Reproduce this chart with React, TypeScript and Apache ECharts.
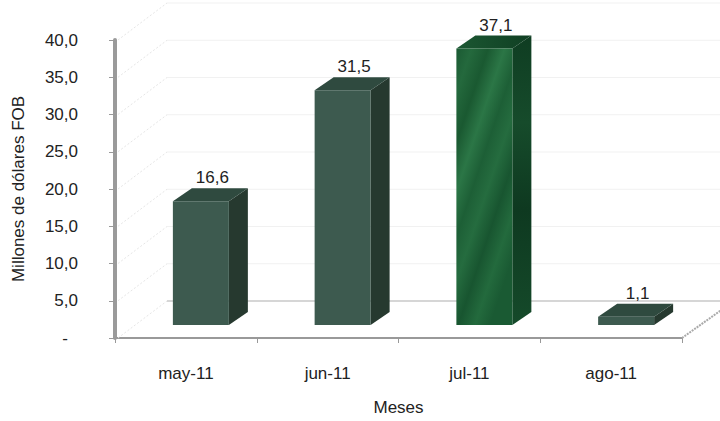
import React, { useEffect, useRef } from "react";
import * as echarts from "echarts";

const months = ["may-11", "jun-11", "jul-11", "ago-11"];
const values = [16.6, 31.5, 37.1, 1.1];
const yTicks = [0, 5, 10, 15, 20, 25, 30, 35, 40];
const highlightMonth = "jul-11";

const fmt = (v: number) => (v === 0 ? "-" : v.toFixed(1).replace(".", ","));

// 3D styling constants (pixels)
const FLOOR_DX = 52;
const FLOOR_DY = 37;
const BAR_OFF_DY = 13;
const BAR_DEPTH_DX = 19;
const BAR_DEPTH_DY = 13;
const FONT = "Liberation Sans";
const FS = 17;

export default function App() {
  const ref = useRef<HTMLDivElement>(null);
  useEffect(() => {
    if (!ref.current) return;
    const chart = echarts.init(ref.current, undefined, { renderer: "svg" });

    const marbleFront = new echarts.graphic.LinearGradient(0, 0, 0.6, 1, [
      { offset: 0, color: "#1b5a33" },
      { offset: 0.12, color: "#24693d" },
      { offset: 0.25, color: "#1a5931" },
      { offset: 0.38, color: "#2b7646" },
      { offset: 0.5, color: "#1d5f36" },
      { offset: 0.62, color: "#256c3f" },
      { offset: 0.75, color: "#185530" },
      { offset: 0.88, color: "#236a3d" },
      { offset: 1, color: "#1a5a33" },
    ]);
    const marbleSide = new echarts.graphic.LinearGradient(0, 0, 0, 1, [
      { offset: 0, color: "#0f3d22" },
      { offset: 0.3, color: "#164b2b" },
      { offset: 0.6, color: "#0e3920" },
      { offset: 1, color: "#154a2a" },
    ]);
    const marbleTop = new echarts.graphic.LinearGradient(0, 0, 1, 0, [
      { offset: 0, color: "#1b5732" },
      { offset: 1, color: "#103f23" },
    ]);

    const option: any = {
      animation: false,
      grid: { left: 115, right: 38, top: 40, bottom: 76 },
      xAxis: {
        type: "category",
        data: months,
        name: "Meses",
        nameLocation: "middle",
        nameGap: 61,
        nameTextStyle: { fontFamily: FONT, fontSize: FS, color: "#222" },
        axisLine: { show: true, lineStyle: { color: "#999", width: 2 } },
        axisTick: { show: true, alignWithLabel: false, length: 5, lineStyle: { color: "#999", width: 1 } },
        axisLabel: { margin: 27, fontFamily: FONT, fontSize: FS, color: "#222" },
        splitLine: { show: false },
      },
      yAxis: {
        type: "value",
        min: 0,
        max: 40,
        interval: 5,
        name: "Millones de dólares FOB",
        nameLocation: "middle",
        nameGap: 88,
        nameTextStyle: { fontFamily: FONT, fontSize: FS, color: "#222" },
        axisLine: { show: true, lineStyle: { color: "#9a9a9a", width: 4 } },
        axisTick: { show: true, length: 6, lineStyle: { color: "#999", width: 1 } },
        axisLabel: {
          margin: 37,
          fontFamily: FONT,
          fontSize: FS,
          color: "#222",
          formatter: (v: number) => (v === 0 ? "{d|-}" : fmt(v)),
          rich: { d: { fontFamily: FONT, fontSize: FS, color: "#222", padding: [0, 10, 0, 0] } },
        },
        splitLine: { show: false },
      },
      series: [
        {
          type: "custom",
          z: 1,
          silent: true,
          data: yTicks.map((v) => [0, v]),
          renderItem: (params: any, api: any) => {
            const v = api.value(1);
            const p = api.coord([0, v]);
            const cs = params.coordSys;
            const xl = cs.x;
            const xr = cs.x + cs.width;
            const y = p[1];
            const children: any[] = [];
            children.push({
              type: "line",
              shape: { x1: xl + 3, y1: y, x2: xl + FLOOR_DX, y2: y - FLOOR_DY },
              style: { stroke: "#e6e6e6", lineWidth: 1, lineDash: [2, 2] },
            });
            children.push({
              type: "line",
              shape: { x1: xl + FLOOR_DX, y1: y - FLOOR_DY, x2: xr + FLOOR_DX, y2: y - FLOOR_DY },
              style: { stroke: v === 0 ? "#d6d6d6" : "#f1f1f1", lineWidth: v === 0 ? 2 : 1 },
            });
            if (v === 0) {
              children.push({
                type: "line",
                shape: { x1: xr, y1: y, x2: xr + FLOOR_DX, y2: y - FLOOR_DY },
                style: { stroke: "#aaaaaa", lineWidth: 2, lineDash: [2, 1] },
              });
            }
            return { type: "group", children };
          },
        },
        {
          type: "custom",
          z: 3,
          data: values.map((v, i) => [i, v]),
          renderItem: (params: any, api: any) => {
            const idx = api.value(0);
            const v = api.value(1);
            const top = api.coord([idx, v]);
            const base = api.coord([idx, 0]);
            const band = api.size([1, 0])[0];
            const w = band * 0.395;
            const x0 = top[0] - w / 2 + 15;
            const x1 = x0 + w;
            const yTop = top[1] - BAR_OFF_DY;
            const yBot = base[1] - BAR_OFF_DY;
            const hl = months[idx] === highlightMonth;
            const front = hl ? marbleFront : "#3d5a4f";
            const side = hl ? marbleSide : "#26392f";
            const topC = hl ? marbleTop : "#2f4a3f";
            return {
              type: "group",
              children: [
                {
                  type: "polygon",
                  shape: {
                    points: [
                      [x1, yTop],
                      [x1 + BAR_DEPTH_DX, yTop - BAR_DEPTH_DY],
                      [x1 + BAR_DEPTH_DX, yBot - BAR_DEPTH_DY],
                      [x1, yBot],
                    ],
                  },
                  style: { fill: side },
                },
                {
                  type: "polygon",
                  shape: {
                    points: [
                      [x0, yTop],
                      [x1, yTop],
                      [x1 + BAR_DEPTH_DX, yTop - BAR_DEPTH_DY],
                      [x0 + BAR_DEPTH_DX, yTop - BAR_DEPTH_DY],
                    ],
                  },
                  style: { fill: topC },
                },
                {
                  type: "rect",
                  shape: { x: x0, y: yTop, width: w, height: yBot - yTop },
                  style: { fill: front },
                },
                {
                  type: "text",
                  style: {
                    text: fmt(v),
                    x: (x0 + x1) / 2 + BAR_DEPTH_DX / 2 + 2,
                    y: yTop - BAR_DEPTH_DY - 2,
                    align: "center",
                    verticalAlign: "bottom",
                    fontFamily: FONT,
                    fontSize: FS,
                    fill: "#222",
                  },
                },
              ],
            };
          },
        },
      ],
    };
    chart.setOption(option);
    return () => chart.dispose();
  }, []);
  return <div ref={ref} style={{ width: 720, height: 421, position: "absolute", left: 0, top: 0 }} />;
}
